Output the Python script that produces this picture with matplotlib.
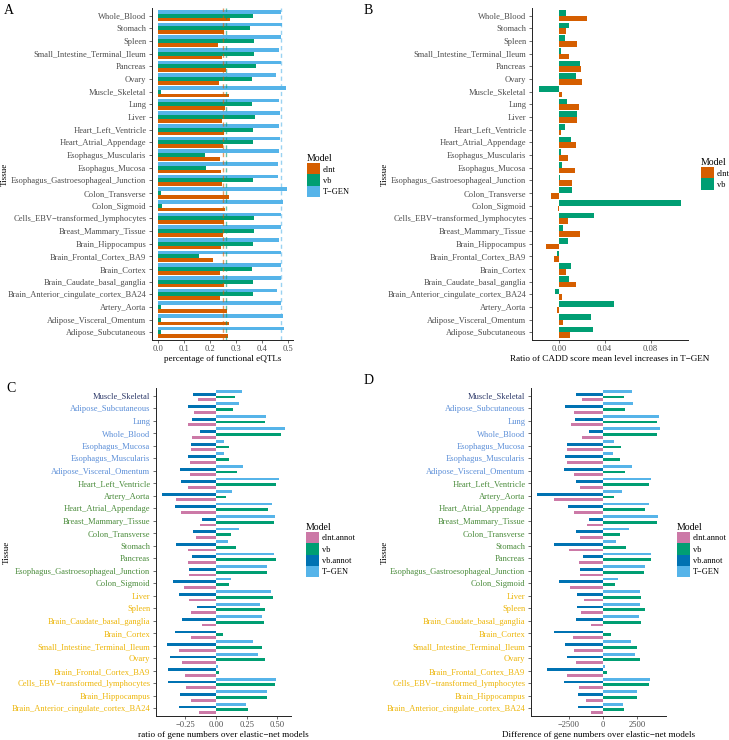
import numpy as np
import matplotlib.pyplot as plt
from matplotlib.patches import Patch
from matplotlib.ticker import FuncFormatter

plt.rcParams['font.family'] = ['Liberation Serif', 'DejaVu Serif']

M = "\u2212"

# panels A and B, tissues listed top to bottom
tissues_ab = ["Whole_Blood", "Stomach", "Spleen", "Small_Intestine_Terminal_Ileum",
              "Pancreas", "Ovary", "Muscle_Skeletal", "Lung", "Liver",
              "Heart_Left_Ventricle", "Heart_Atrial_Appendage", "Esophagus_Muscularis",
              "Esophagus_Mucosa", "Esophagus_Gastroesophageal_Junction",
              "Colon_Transverse", "Colon_Sigmoid", "Cells_EBV" + M + "transformed_lymphocytes",
              "Breast_Mammary_Tissue", "Brain_Hippocampus", "Brain_Frontal_Cortex_BA9",
              "Brain_Cortex", "Brain_Caudate_basal_ganglia",
              "Brain_Anterior_cingulate_cortex_BA24", "Artery_Aorta",
              "Adipose_Visceral_Omentum", "Adipose_Subcutaneous"]

a_elnt = [0.278, 0.253, 0.232, 0.247, 0.260, 0.235, 0.271, 0.259, 0.247, 0.255, 0.250,
          0.236, 0.242, 0.246, 0.273, 0.256, 0.253, 0.250, 0.241, 0.211, 0.237, 0.253,
          0.237, 0.265, 0.272, 0.269]
a_vb = [0.366, 0.352, 0.370, 0.371, 0.376, 0.361, 0.010, 0.363, 0.374, 0.367, 0.366,
        0.180, 0.184, 0.366, 0.010, 0.012, 0.371, 0.369, 0.365, 0.157, 0.361, 0.366,
        0.365, 0.009, 0.009, 0.009]
a_tgen = [0.475, 0.478, 0.473, 0.466, 0.473, 0.456, 0.491, 0.466, 0.470, 0.466, 0.468,
          0.465, 0.461, 0.460, 0.495, 0.482, 0.473, 0.473, 0.466, 0.473, 0.473, 0.472,
          0.459, 0.474, 0.482, 0.486]

b_elnt = [0.0247, 0.0064, 0.0157, 0.0090, 0.0195, 0.0204, 0.0029, 0.0177, 0.0163, 0.0015,
          0.0151, 0.0079, 0.0145, 0.0116, -0.0067, -0.0009, 0.0081, 0.0186, -0.0111,
          -0.0044, 0.0064, 0.0151, 0.0032, -0.0012, 0.0038, 0.0096]
b_vb = [0.0061, 0.0090, 0.0058, 0.0020, 0.0189, 0.0148, -0.0172, 0.0073, 0.0163, 0.0055,
        0.0108, 0.0023, 0.0029, 0.0012, 0.0111, 0.1065, 0.0305, 0.0038, 0.0084,
        -0.0020, 0.0108, 0.0093, -0.0032, 0.0480, 0.0285, 0.0297]

# panels C and D, tissues listed top to bottom
tissues_cd = ["Muscle_Skeletal", "Adipose_Subcutaneous", "Lung", "Whole_Blood",
              "Esophagus_Mucosa", "Esophagus_Muscularis", "Adipose_Visceral_Omentum",
              "Heart_Left_Ventricle", "Artery_Aorta", "Heart_Atrial_Appendage",
              "Breast_Mammary_Tissue", "Colon_Transverse", "Stomach", "Pancreas",
              "Esophagus_Gastroesophageal_Junction", "Colon_Sigmoid", "Liver", "Spleen",
              "Brain_Caudate_basal_ganglia", "Brain_Cortex", "Small_Intestine_Terminal_Ileum",
              "Ovary", "Brain_Frontal_Cortex_BA9", "Cells_EBV" + M + "transformed_lymphocytes",
              "Brain_Hippocampus", "Brain_Anterior_cingulate_cortex_BA24"]
cd_groups = ["navy"] + ["blue"] * 6 + ["green"] * 9 + ["gold"] * 10

c_elnt_annot = [-0.147, -0.177, -0.226, -0.193, -0.204, -0.215, -0.215, -0.226, -0.326,
                -0.283, -0.130, -0.160, -0.226, -0.226, -0.223, -0.258, -0.223, -0.204,
                -0.114, -0.201, -0.304, -0.277, -0.253, -0.242, -0.204, -0.141]
c_vb = [0.155, 0.139, 0.397, 0.530, 0.109, 0.103, 0.168, 0.486, 0.082, 0.421, 0.473,
        0.122, 0.160, 0.484, 0.413, 0.106, 0.462, 0.399, 0.389, 0.060, 0.372, 0.397,
        0.027, 0.478, 0.413, 0.258]
c_vb_annot = [-0.190, -0.231, -0.196, -0.130, -0.207, -0.226, -0.291, -0.283, -0.438,
              -0.332, -0.114, -0.185, -0.326, -0.193, -0.217, -0.353, -0.304, -0.155,
              -0.274, -0.332, -0.402, -0.372, -0.394, -0.389, -0.293, -0.299]
c_tgen = [0.215, 0.190, 0.408, 0.560, 0.068, 0.063, 0.223, 0.516, 0.133, 0.459, 0.481,
          0.185, 0.095, 0.473, 0.418, 0.125, 0.448, 0.356, 0.375, 0.003, 0.304, 0.345,
          0.019, 0.486, 0.413, 0.245]

d_elnt_annot = [-1495, -2132, -2303, -1495, -2597, -2622, -2132, -1642, -3553, -2132,
                -1152, -1691, -2450, -1715, -1642, -2401, -1397, -1617, -833, -2205,
                -2083, -1936, -2622, -1740, -1250, -858]
d_vb = [1544, 1666, 3994, 3994, 1348, 1274, 1617, 3406, 858, 3136, 3994, 1299, 1715,
        3577, 3014, 931, 2818, 3112, 2818, 613, 2524, 2744, 319, 3381, 2524, 1544]
d_vb_annot = [-1936, -2769, -2009, -1005, -2622, -2744, -2867, -1985, -4802, -2524,
              -1005, -1936, -3577, -1446, -1642, -3185, -1862, -1887, -1960, -3602,
              -2744, -2597, -4067, -2818, -1838, -1838]
d_tgen = [2181, 2254, 4116, 4190, 858, 760, 2181, 3577, 1446, 3406, 4067, 1911, 1005,
          3504, 3087, 1127, 2720, 2769, 2695, 25, 2058, 2401, 196, 3455, 2499, 1495]

model_colors = {"elnt": "#D55E00", "vb": "#009E73", "T" + M + "GEN": "#56B4E9",
                "elnt.annot": "#CC79A7", "vb.annot": "#0072B2"}
group_colors = {"navy": "#2E3A6A", "blue": "#5C8FD8", "green": "#4B8C3C", "gold": "#EDB60A"}

W, H = 729, 740
fig = plt.figure(figsize=(W / 100, H / 100), dpi=100)


def px_axes(l, t, r, b):
    return fig.add_axes([l / W, 1 - b / H, (r - l) / W, (b - t) / H])


def grouped_bars(ax, labels, series, names):
    k = len(series)
    w = 0.9 / k
    y = np.arange(len(labels))
    for i, (vals, name) in enumerate(zip(series, names)):
        off = ((k - 1) / 2 - i) * w  # first level sits at the bottom of each group
        ax.barh(y + off, vals, height=w, color=model_colors[name])
    allv = np.concatenate([np.asarray(s, float) for s in series])
    lo, hi = min(0, allv.min()), max(0, allv.max())
    pad = 0.05 * (hi - lo)
    ax.set_xlim(lo - pad, hi + pad)
    n = len(labels)
    ax.set_ylim(n - 0.4, -0.6)
    ax.set_yticks(y)
    ax.set_yticklabels(labels)


def style(ax, xlabel, xticks, fmt, label_xy):
    for s in ["top", "right"]:
        ax.spines[s].set_visible(False)
    for s in ["left", "bottom"]:
        ax.spines[s].set_linewidth(0.7)
        ax.spines[s].set_color("#222222")
    ax.set_xticks(xticks)
    ax.xaxis.set_major_formatter(FuncFormatter(fmt))
    ax.tick_params(labelsize=6.15, labelcolor="#4D4D4D", length=2, width=0.5,
                   color="#333333", pad=2)
    ax.tick_params(axis="x", pad=1.5)
    ax.set_xlabel(xlabel, fontsize=6.6, labelpad=1.5)
    ax.set_ylabel("Tissue", fontsize=6.6)
    ax.yaxis.set_label_coords(label_xy[0] / W, 1 - label_xy[1] / H,
                              transform=fig.transFigure)


def legend(ax, names, x, y):
    handles = [Patch(facecolor=model_colors[n], label=n) for n in names]
    fig.legend(handles=handles, title="Model", loc="upper left",
               bbox_to_anchor=(x / W, 1 - y / H), frameon=False, fontsize=6.0,
               title_fontsize=7, handlelength=1.5, handleheight=1.7,
               labelspacing=0.0, handletextpad=0.4, borderpad=0, alignment="left")


def minus(s):
    return s.replace("-", M)


# ---- A ----
axA = px_axes(152, 8, 293, 340)
namesA = ["elnt", "vb", "T" + M + "GEN"]
seriesA = [a_elnt, a_vb, a_tgen]
grouped_bars(axA, tissues_ab, seriesA, namesA)
for vals, name in zip(seriesA, namesA):
    axA.axvline(np.mean(vals), color=model_colors[name], ls=(0, (3, 2.5)), lw=1.0, alpha=0.6)
style(axA, "percentage of functional eQTLs", [0, 0.1, 0.2, 0.3, 0.4, 0.5],
      lambda v, p: f"{v:.1f}", (9, 174))
legend(axA, namesA, 303, 150)

# ---- B ----
axB = px_axes(532, 8, 688, 340)
namesB = ["elnt", "vb"]
grouped_bars(axB, tissues_ab, [b_elnt, b_vb], namesB)
style(axB, "Ratio of CADD score mean level increases in T" + M + "GEN", [0, 0.04, 0.08],
      lambda v, p: minus(f"{v:.2f}"), (389, 174))
legend(axB, namesB, 697, 154)

# ---- C ----
namesCD = ["elnt.annot", "vb", "vb.annot", "T" + M + "GEN"]
axC = px_axes(156, 388, 291, 716)
grouped_bars(axC, tissues_cd, [c_elnt_annot, c_vb, c_vb_annot, c_tgen], namesCD)
style(axC, "ratio of gene numbers over elastic" + M + "net models", [-0.25, 0, 0.25, 0.5],
      lambda v, p: minus(f"{v:.2f}"), (11, 552))
for lab, g in zip(axC.get_yticklabels(), cd_groups):
    lab.set_color(group_colors[g])
legend(axC, namesCD, 302, 519)

# ---- D ----
axD = px_axes(531, 388, 666, 716)
grouped_bars(axD, tissues_cd, [d_elnt_annot, d_vb, d_vb_annot, d_tgen], namesCD)
style(axD, "Difference of gene numbers over elastic" + M + "net models", [-2500, 0, 2500],
      lambda v, p: minus(f"{v:.0f}"), (389, 552))
for lab, g in zip(axD.get_yticklabels(), cd_groups):
    lab.set_color(group_colors[g])
legend(axD, namesCD, 673, 519)

for letter, x, y in [("A", 4, 4), ("B", 364, 4), ("C", 6, 382), ("D", 364, 374)]:
    fig.text(x / W, 1 - y / H, letter, fontsize=10, va="top", ha="left")

fig.savefig("out.png", dpi=100)
